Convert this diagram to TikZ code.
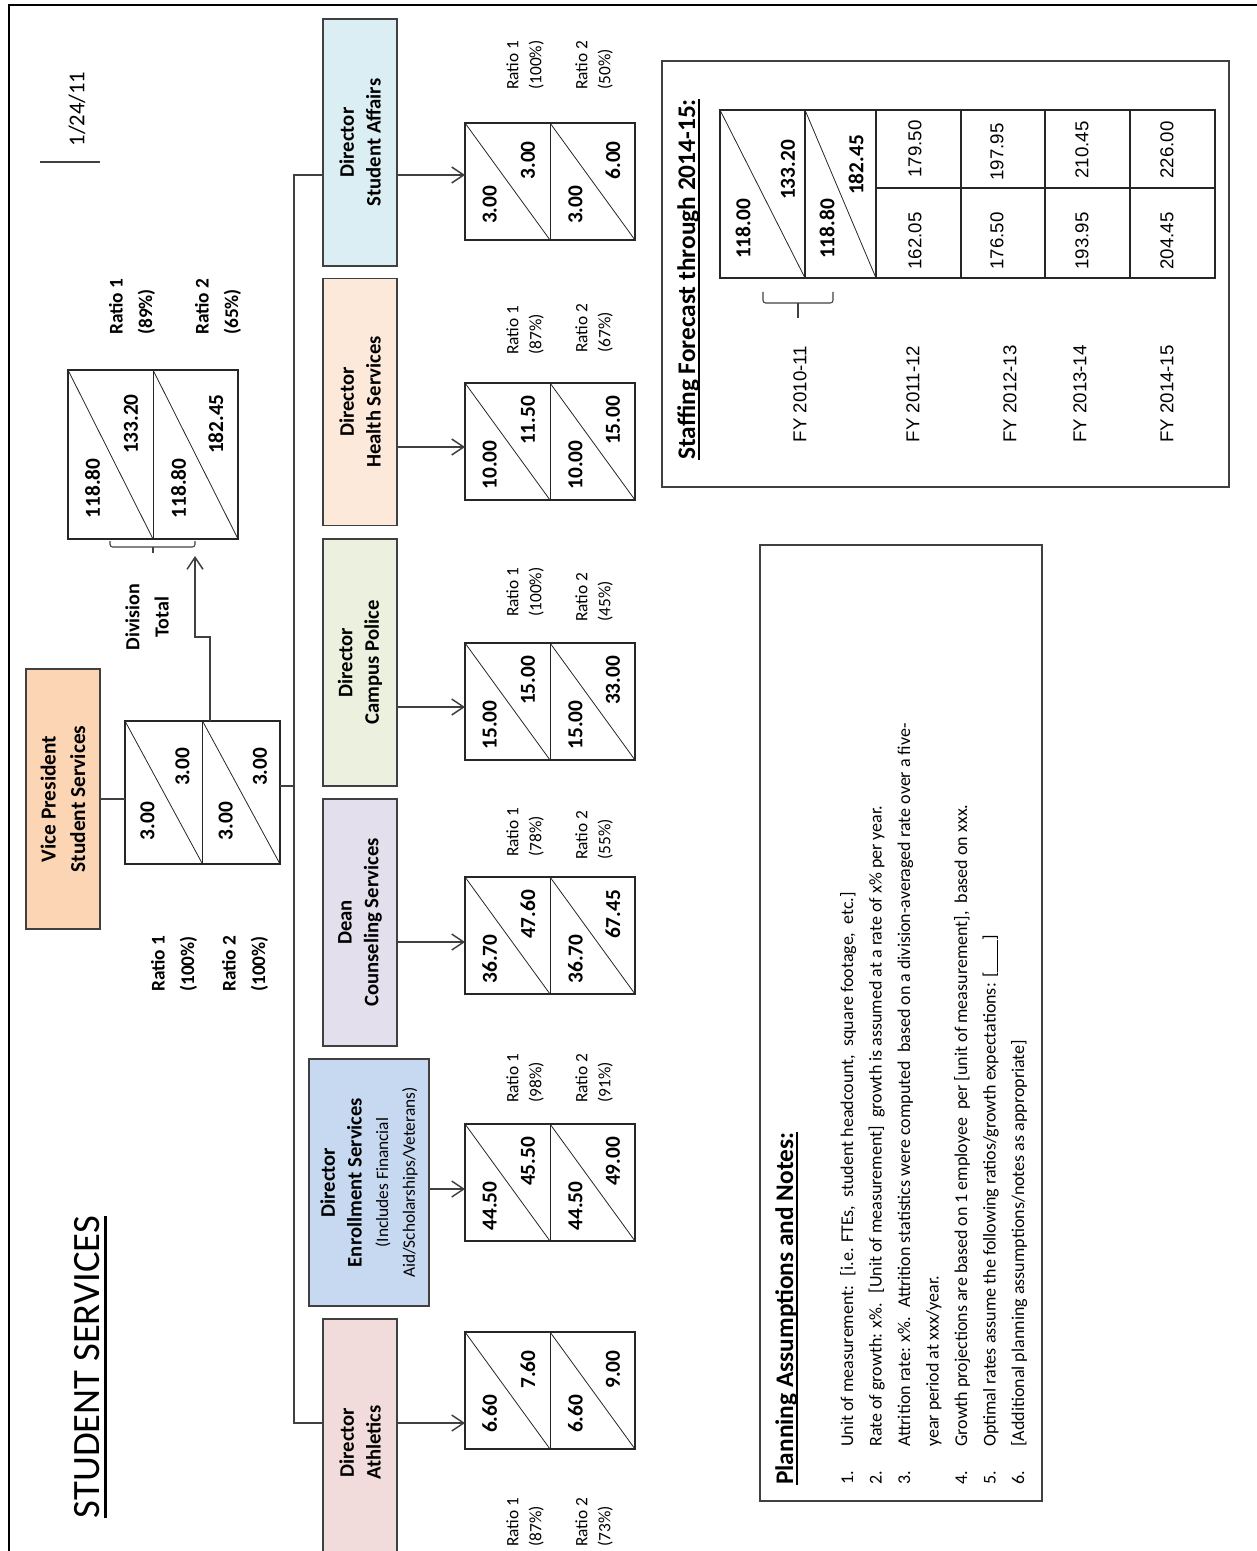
\documentclass[tikz,border=0pt]{standalone}
\usepackage{fontspec}
\setmainfont{Carlito}
\newfontfamily\arialfont{Liberation Sans}
\usetikzlibrary{arrows.meta, calc, positioning}
\definecolor{VPOrange}{RGB}{252,213,181}
\definecolor{SABlue}{RGB}{219,238,244}
\definecolor{HSPeach}{RGB}{253,233,217}
\definecolor{CPGreen}{RGB}{235,241,222}
\definecolor{CSLilac}{RGB}{228,223,236}
\definecolor{ESBlue}{RGB}{198,217,241}
\definecolor{ATPink}{RGB}{242,220,219}
\definecolor{LineGray}{RGB}{64,64,64}
\newcommand{\fsz}[2]{\fontsize{#1}{#2}\selectfont}
% two-cell box with a diagonal in each cell: name, x, y, width, height, values
\newcommand{\splitbox}[9]{%
  \node[numbox, minimum width=#4*0.75pt, minimum height=#5*0.75pt] (#1) at (#2,#3) {};
  \draw[thinline] (#1.north) -- (#1.south);
  \draw[thinline] (#1.north west) -- (#1.south);
  \draw[thinline] (#1.north) -- (#1.south east);
  \node[numval] (#1-a) at ($(#1.north west)+({0.145*#4},{0.7*#5})$) {#6};
  \node[numval] (#1-b) at ($(#1.north west)+({0.37*#4},{0.32*#5})$) {#7};
  \node[numval] (#1-c) at ($(#1.north west)+({0.65*#4},{0.7*#5})$) {#8};
  \node[numval] (#1-d) at ($(#1.north west)+({0.87*#4},{0.32*#5})$) {#9};
}

\begin{document}
\begin{tikzpicture}[x=0.75pt, y=-0.75pt,
    dirbox/.style={draw=LineGray, line width=1.1pt, rotate=90, align=center,
      minimum width=185.25pt, minimum height=55.5pt, inner sep=2pt,
      font=\bfseries\fsz{15.5}{20}},
    numbox/.style={draw=black!85, line width=0.9pt, inner sep=0pt, outer sep=0pt},
    thinline/.style={draw=black!85, line width=0.6pt},
    numval/.style={rotate=90, inner sep=0pt, font=\bfseries\fsz{16}{18}},
    ratiotext/.style={rotate=90, anchor=west, align=left, inner sep=0pt,
      font=\fsz{13}{17.25}},
    boldratio/.style={ratiotext, font=\bfseries\fsz{14.5}{22}},
    link/.style={draw=LineGray, line width=1.1pt},
    arr/.style={link, -{Straight Barb[length=9pt,width=12pt]}},
    panel/.style={draw=LineGray, line width=1.2pt},
    fcval/.style={rotate=90, inner sep=0pt, font=\arialfont\fsz{14}{16}},
    ul/.style={line width=1.4pt}]
  \useasboundingbox (0,0) rectangle (1256,1551);
  % page frame, only top and left edges show
  \draw[line width=2.2pt] (9,1570) -- (9,5) -- (1270,5);

  % heading and date
  \node[rotate=90, inner sep=0pt, font=\fsz{29}{34}] (stitle) at (87,1367)
        {STUDENT SERVICES};
  \draw[line width=1.8pt] ($(stitle.base west)+(6,0)$) -- ($(stitle.base east)+(6,0)$);
  \node[rotate=90, font=\fsz{17}{20}] (date) at (77,109) {1/24/11};
  \draw[link, line width=0.9pt] (40,162) -- (100,162);

  % vice president and division total
  \node[dirbox, fill=VPOrange, minimum width=195pt, font=\bfseries\fsz{16}{22}]
        (vp) at (63,799) {Vice President\\Student Services};
  \splitbox{nvp}{202.5}{792.5}{155}{143}{3.00}{3.00}{3.00}{3.00}
  \node[boldratio] (vpr1) at (174,992) {Ratio 1\\(100\%)};
  \node[boldratio] (vpr2) at (245,992) {Ratio 2\\(100\%)};

  \splitbox{ntot}{153}{454.5}{170}{169}{118.80}{133.20}{118.80}{182.45}
  \node[boldratio] (totr1) at (132,335) {Ratio 1\\(89\%)};
  \node[boldratio] (totr2) at (218,335) {Ratio 2\\(65\%)};
  \node[rotate=90, align=center, font=\bfseries\fsz{15}{22}] (divlbl) at (147,617)
        {Division\\Total};
  \draw[link, line width=0.8pt, rounded corners=2pt] (110,541) -- (110,547)
        -- (195,547) -- (195,541);
  \draw[link, line width=0.8pt] (153,547) -- (153,553);

  % directors
  \node[dirbox, fill=SABlue] (dsa) at (360,142.5) {Director\\Student Affairs};
  \node[dirbox, fill=HSPeach] (dhs) at (360,402) {Director\\Health Services};
  \node[dirbox, fill=CPGreen] (dcp) at (360,662.5) {Director\\Campus Police};
  \node[dirbox, fill=CSLilac] (dcs) at (360,922.5) {Dean\\Counseling Services};
  \node[dirbox, fill=ESBlue, minimum height=90pt] (des) at (369,1182.5)
        {Director\\Enrollment Services\\{\mdseries\fsz{13}{17}(Includes Financial}\\
         {\mdseries\fsz{13}{17}Aid/Scholarships/Veterans)}};
  \node[dirbox, fill=ATPink] (dath) at (360,1442.5) {Director\\Athletics};

  \splitbox{nsa}{550}{181.5}{170}{117}{3.00}{3.00}{3.00}{6.00}
  \splitbox{nhs}{550}{441.5}{170}{117}{10.00}{11.50}{10.00}{15.00}
  \splitbox{ncp}{550}{701.5}{170}{117}{15.00}{15.00}{15.00}{33.00}
  \splitbox{ncs}{550}{935.5}{170}{117}{36.70}{47.60}{36.70}{67.45}
  \splitbox{nes}{550}{1182.5}{170}{117}{44.50}{45.50}{44.50}{49.00}
  \splitbox{nath}{550}{1390.5}{170}{117}{6.60}{7.60}{6.60}{9.00}

  \node[ratiotext] (sar1) at (525,90) {Ratio 1\\(100\%)};
  \node[ratiotext] (sar2) at (594,90) {Ratio 2\\(50\%)};
  \node[ratiotext] (hsr1) at (525,355) {Ratio 1\\(87\%)};
  \node[ratiotext] (hsr2) at (594,353) {Ratio 2\\(67\%)};
  \node[ratiotext] (cpr1) at (525,617) {Ratio 1\\(100\%)};
  \node[ratiotext] (cpr2) at (594,622) {Ratio 2\\(45\%)};
  \node[ratiotext] (csr1) at (525,857) {Ratio 1\\(78\%)};
  \node[ratiotext] (csr2) at (594,860) {Ratio 2\\(55\%)};
  \node[ratiotext] (esr1) at (525,1103) {Ratio 1\\(98\%)};
  \node[ratiotext] (esr2) at (594,1103) {Ratio 2\\(91\%)};
  \node[ratiotext] (atr1) at (525,1547) {Ratio 1\\(87\%)};
  \node[ratiotext] (atr2) at (594,1547) {Ratio 2\\(73\%)};

  % connectors
  \coordinate (ttop) at (294,175);
  \coordinate (tbot) at (294,1423);
  \coordinate (yvp) at (0,786);
  \coordinate (dbend) at (195,637);
  \coordinate (dtip) at (195,556);
  \draw[link] (vp.south) -- (vp.south -| nvp.west);
  \draw[link] (nvp.east |- yvp) -- (ttop |- yvp);
  \draw[arr] ($(nvp.north)+(7.5,0)$) |- (dbend) -- (dtip);
  \draw[link] (dsa.north |- ttop) -- (ttop) -- (tbot) -- (dath.north |- tbot);
  \coordinate (ysa) at (0,175);
  \coordinate (yhs) at (0,447);
  \coordinate (ycp) at (0,707);
  \coordinate (ycs) at (0,942);
  \coordinate (yes) at (0,1189);
  \draw[arr] (dsa.south |- ysa) -- (nsa.west |- ysa);
  \draw[arr] (dhs.south |- yhs) -- (nhs.west |- yhs);
  \draw[arr] (dcp.south |- ycp) -- (ncp.west |- ycp);
  \draw[arr] (dcs.south |- ycs) -- (ncs.west |- ycs);
  \draw[arr] (des.south |- yes) -- (nes.west |- yes);
  \draw[arr] (dath.south |- tbot) -- (nath.west |- tbot);

  % staffing forecast
  \draw[panel] (662,61) rectangle (1229,487);
  \node[rotate=90, anchor=base west, inner sep=0pt, font=\bfseries\fsz{19}{22}]
        (ftitle) at (695,460) {Staffing Forecast through 2014-15:};
  \draw[ul] ($(ftitle.base west)+(4,0)$) -- ($(ftitle.base east)+(4,0)$);
  \draw[numbox] (720,110) rectangle (1215,278);
  \draw[thinline] (720,110) -- (805,278) (805,110) -- (876,278);
  \draw[numbox] (805,110) -- (805,278) (876,110) -- (876,278)
        (961,110) -- (961,278) (1045,110) -- (1045,278) (1130,110) -- (1130,278)
        (876,188) -- (1215,188);
  \node[numval] (fa) at (743,229) {118.00};
  \node[numval] (fb) at (788,170) {133.20};
  \node[numval] (fc) at (827,229) {118.80};
  \node[numval] (fd) at (856,165) {182.45};
  \node[fcval] (f12a) at (915,149) {179.50};
  \node[fcval] (f12b) at (915,241) {162.05};
  \node[fcval] (f13a) at (997,152) {197.95};
  \node[fcval] (f13b) at (997,241) {176.50};
  \node[fcval] (f14a) at (1082,150) {210.45};
  \node[fcval] (f14b) at (1082,241) {193.95};
  \node[fcval] (f15a) at (1167,150) {226.00};
  \node[fcval] (f15b) at (1167,241) {204.45};
  \node[fcval] (fy11) at (800,394) {FY 2010-11};
  \node[fcval] (fy12) at (913,394) {FY 2011-12};
  \node[fcval] (fy13) at (1010,394) {FY 2012-13};
  \node[fcval] (fy14) at (1080,394) {FY 2013-14};
  \node[fcval] (fy15) at (1167,394) {FY 2014-15};
  \draw[link, line width=0.8pt, rounded corners=2pt] (763,292) -- (763,303)
        -- (833,303) -- (833,292);
  \draw[link, line width=0.8pt] (798,303) -- (798,318);

  % planning notes
  \draw[panel] (760,545) rectangle (1042,1501);
  \node[rotate=90, anchor=base west, inner sep=0pt, font=\bfseries\fsz{19}{22}]
        (ptitle) at (793,1485) {Planning Assumptions and Notes:};
  \draw[ul] ($(ptitle.base west)+(4,0)$) -- ($(ptitle.base east)+(4,0)$);
  \node[rotate=90, anchor=base west, inner sep=0pt, font=\fsz{13.5}{21.4}]
        (plist) at (853,1485) {%
    \begin{tabular}[t]{@{}p{28.5pt}@{}l@{}}
      1. & Unit of measurement:~ [i.e. FTEs,~ student headcount,~ square footage,~ etc.]\\
      2. & Rate of growth: x\%.~ [Unit of measurement]~ growth is assumed at a rate of x\% per year.\\
      3. & Attrition rate: x\%.~ Attrition statistics were computed~ based on a division-averaged rate over a five-\\
         & year period at xxx/year.\\
      4. & Growth projections are based on 1 employee~ per [unit of measurement],~ based on xxx.\\
      5. & Optimal rates assume the following ratios/growth expectations: [\underline{\hspace{24pt}}]\\
      6. & [Additional planning assumptions/notes as appropriate]
    \end{tabular}};
\end{tikzpicture}
\end{document}
